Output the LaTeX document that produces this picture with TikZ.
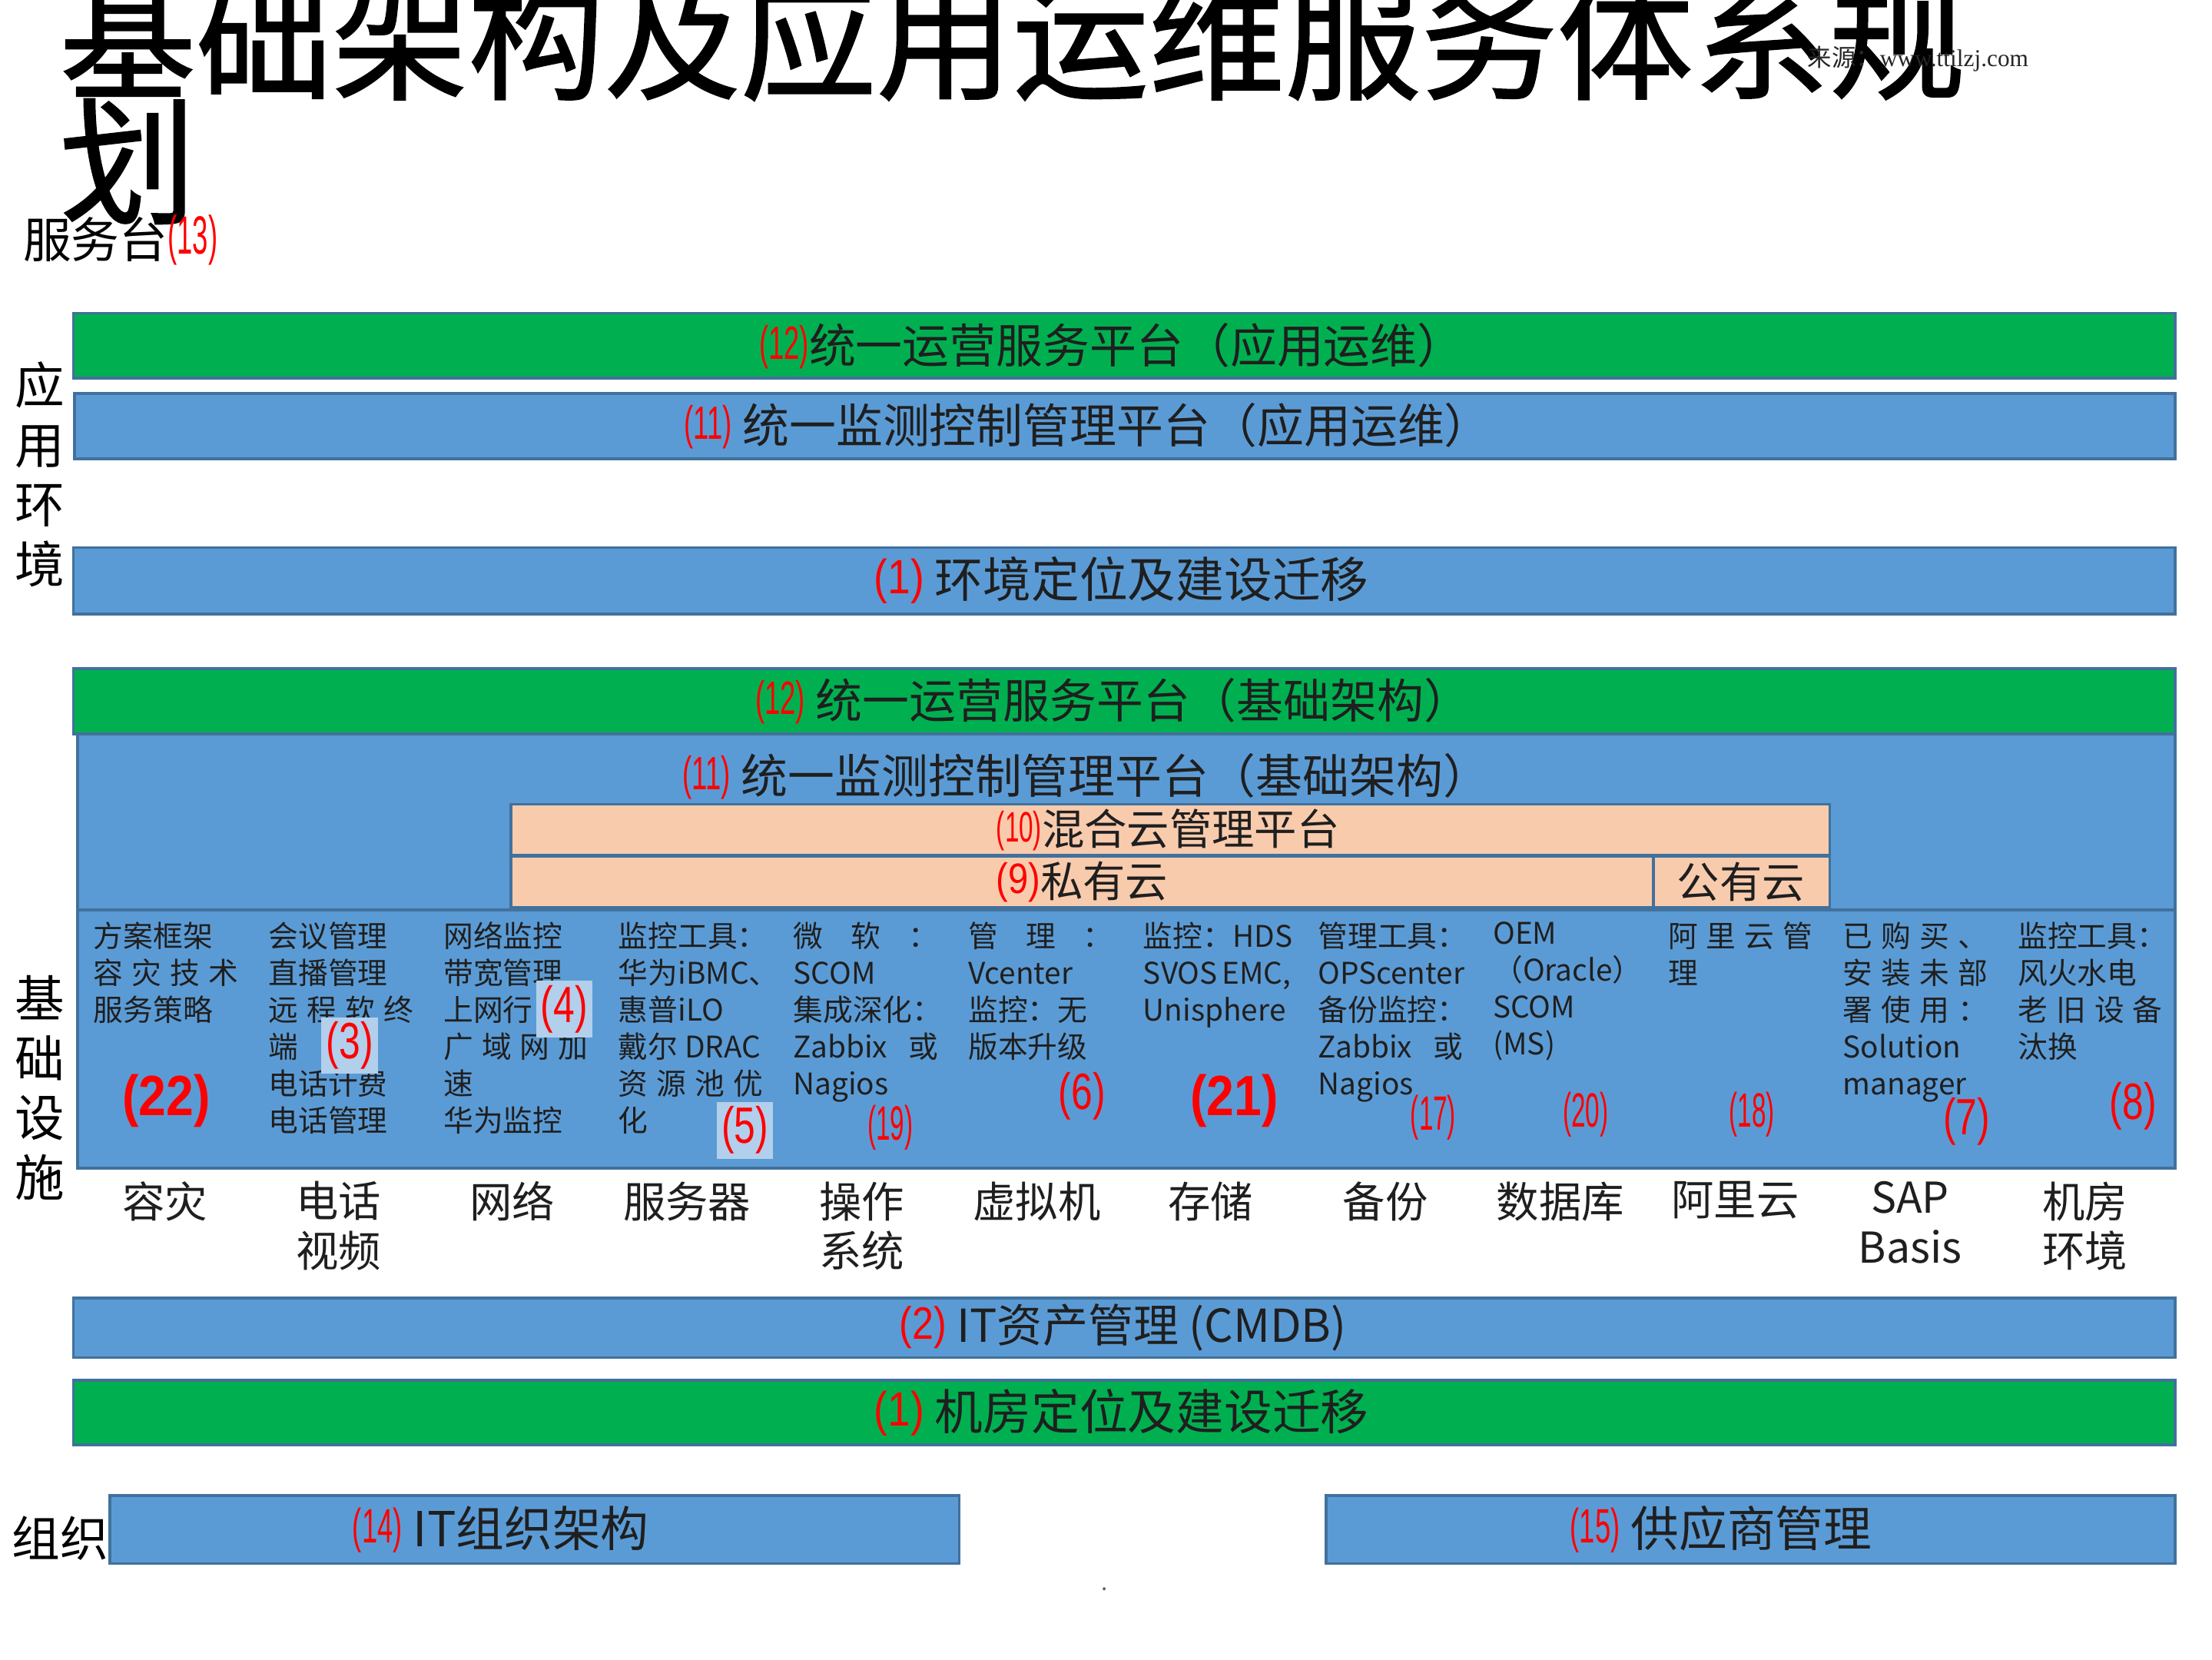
\documentclass[tikz,border=0pt]{standalone}
\usepackage{fontspec}
\usepackage{graphicx}
\setmainfont{Noto Sans CJK SC}
\newfontfamily\numfont{Liberation Sans}
\newfontfamily\wmfont{Liberation Serif}
\newfontfamily\titlefont[FakeBold=1.2]{Noto Sans CJK SC}
\definecolor{gbar}{HTML}{00B050}
\definecolor{bbar}{HTML}{5B9BD5}
\definecolor{bdr}{HTML}{41719C}
\definecolor{peach}{HTML}{F8CBAD}
\definecolor{numred}{HTML}{FF0000}
\definecolor{ink}{HTML}{1F1F1F}
\definecolor{hlc}{HTML}{B2CFEC}
\newcommand{\fs}[2]{\fontsize{#1pt}{#2pt}\selectfont}
\newcommand{\pn}[3]{\raisebox{0.08em}{\color{numred}\numfont\fontsize{#1pt}{#1pt}\selectfont\scalebox{#2}[1]{(#3)}}}
\newcommand{\pnb}[3]{{\color{numred}\numfont\bfseries\fontsize{#1pt}{#1pt}\selectfont\scalebox{#2}[1]{(#3)}}}
\newcommand{\jl}[1]{\makebox[51pt][s]{#1}}
\begin{document}
\begin{tikzpicture}[x=0.49745pt,y=-0.49745pt,
  barg/.style={fill=gbar,draw=bdr,line width=1pt},
  barb/.style={fill=bbar,draw=bdr,line width=1pt},
  barp/.style={fill=peach,draw=bdr,line width=1pt},
  txt/.style={inner sep=0pt,text=ink},
  bartxt/.style={txt,font=\fs{16.5}{20}},
  coltxt/.style={txt,anchor=north west,align=left,font=\fs{10.5}{13}},
  collab/.style={txt,anchor=north,align=center,font=\fs{15}{17.5}},
  hlbox/.style={fill=hlc,inner sep=0pt,minimum width=20pt,minimum height=20pt},
  sidelab/.style={txt,text=black,anchor=north,align=center,font=\fs{17.5}{21}}]
\useasboundingbox (0,0) rectangle (1568,1175.9);
\fill[white] (0,0) rectangle (1568,1175.9);

% title
\node[txt,text=black,anchor=base west,font=\fs{48}{56}\titlefont] (title1) at (42,63) {基础架构及应用运维服务体系规};
\node[txt,text=black,anchor=base west,font=\fs{48}{56}\titlefont] (title2) at (42,151) {划};
\node[txt,text=black!85,anchor=west,font=\fs{8.5}{10}] (wm) at (1281,42) {来源：{\wmfont www.ttilzj.com}};
\node[txt,text=black,anchor=west,font=\fs{17}{20}] (svc) at (16,170) {服务台\pn{19}{0.52}{13}};

% side labels
\node[sidelab] (envlab) at (28,256) {应\\用\\环\\境};
\node[sidelab] (inflab) at (28,691) {基\\础\\设\\施};
\node[txt,text=black,anchor=west,font=\fs{17}{20}] (orglab) at (8,1090) {组织};

% application bars
\path[barg] (52,222) rectangle (1542,268);
\node[bartxt] (a12) at (788,245) {\pn{16.5}{0.6}{12}统一运营服务平台（应用运维）};
\path[barb] (53,279) rectangle (1542,325);
\node[bartxt] (a11) at (771,302) {\pn{16.5}{0.6}{11} 统一监测控制管理平台（应用运维）};
\path[barb] (52,388) rectangle (1542,435);
\node[bartxt,font=\fs{17}{20}] (a1) at (795,411) {\pn{17}{0.85}{1} 环境定位及建设迁移};

% infrastructure
\path[barg] (52,474) rectangle (1542,520);
\node[bartxt] (i12) at (789,497) {\pn{16.5}{0.6}{12} 统一运营服务平台（基础架构）};
\path[barb] (55,520) rectangle (1542,645);
\node[bartxt] (i11) at (770,550) {\pn{16.5}{0.6}{11} 统一监测控制管理平台（基础架构）};
\path[barp] (362,570) rectangle (1297,606);
\node[bartxt,font=\fs{15}{18}] (i10) at (828,588) {\pn{15}{0.6}{10}混合云管理平台};
\path[barp] (362,607) rectangle (1172,643);
\node[bartxt,font=\fs{15}{18}] (i9) at (767,625) {\pn{15}{0.85}{9}私有云};
\path[barp] (1172,607) rectangle (1297,643);
\node[bartxt,font=\fs{15}{18}] (pub) at (1234,625) {公有云};
\path[barb] (55,645) rectangle (1542,828);

% column texts
\node[coltxt] (c1) at (66,653) {方案框架\\\jl{容\hfill 灾\hfill 技\hfill 术}\\服务策略};
\node[coltxt] (c2) at (190,653) {会议管理\\直播管理\\\jl{远\hfill 程\hfill 软\hfill 终}\\端\\电话计费\\电话管理};
\node[coltxt] (c3) at (314,653) {网络监控\\带宽管理\\上网行\\\jl{广\hfill 域\hfill 网\hfill 加}\\速\\华为监控};
\node[coltxt] (c4) at (438,653) {\jl{监\hfill 控\hfill 工\hfill 具\hfill ：}\\\jl{华\hfill 为\hfill iBMC、}\\惠普iLO\\戴尔 DRAC\\\jl{资\hfill 源\hfill 池\hfill 优}\\化};
\node[coltxt] (c5) at (562,653) {\jl{微\hfill 软\hfill ：}\\SCOM\\\jl{集\hfill 成\hfill 深\hfill 化\hfill ：}\\\jl{Zabbix\hfill 或}\\Nagios};
\node[coltxt] (c6) at (686,653) {\jl{管\hfill 理\hfill ：}\\Vcenter\\监控：无\\版本升级};
\node[coltxt] (c7) at (810,653) {\jl{监控：\hfill HDS}\\\jl{SVOS~\hfill EMC,}\\Unisphere};
\node[coltxt] (c8) at (934,653) {\jl{管\hfill 理\hfill 工\hfill 具\hfill ：}\\OPScenter\\\jl{备\hfill 份\hfill 监\hfill 控\hfill ：}\\\jl{Zabbix\hfill 或}\\Nagios};
\node[coltxt] (c9) at (1058,653) {OEM\\（Oracle）\\SCOM\\(MS)};
\node[coltxt] (c10) at (1182,653) {\jl{阿\hfill 里\hfill 云\hfill 管}\\理};
\node[coltxt] (c11) at (1306,653) {\jl{已\hfill 购\hfill 买\hfill 、}\\\jl{安\hfill 装\hfill 未\hfill 部}\\\jl{署\hfill 使\hfill 用\hfill ：}\\Solution\\manager};
\node[coltxt] (c12) at (1430,653) {\jl{监\hfill 控\hfill 工\hfill 具\hfill ：}\\风火水电\\\jl{老\hfill 旧\hfill 设\hfill 备}\\汰换};

% red numbers in columns
\node[txt] (n22) at (118,780) {\pnb{20}{0.87}{22}};
\node[hlbox] (n3) at (248,741) {\pn{18}{0.75}{3}};
\node[hlbox] (n4) at (400,715) {\pn{18}{0.75}{4}};
\node[hlbox] (n5) at (528,801) {\pn{18}{0.75}{5}};
\node[txt] (n19) at (631,799) {\pn{17}{0.53}{19}};
\node[txt] (n6) at (767,777) {\pn{18}{0.75}{6}};
\node[txt] (n21) at (875,780) {\pnb{20}{0.87}{21}};
\node[txt] (n17) at (1016,792) {\pn{17}{0.53}{17}};
\node[txt] (n20) at (1124,790) {\pn{17}{0.53}{20}};
\node[txt] (n18) at (1242,790) {\pn{17}{0.53}{18}};
\node[txt] (n7) at (1394,795) {\pn{18}{0.75}{7}};
\node[txt] (n8) at (1512,784) {\pn{18}{0.75}{8}};

% column labels
\node[collab] (l1) at (117,837) {容灾};
\node[collab] (l2) at (240,837) {电话\\视频};
\node[collab] (l3) at (363,837) {网络};
\node[collab] (l4) at (487,837) {服务器};
\node[collab] (l5) at (611,837) {操作\\系统};
\node[collab] (l6) at (735,837) {虚拟机};
\node[collab] (l7) at (858,837) {存储};
\node[collab] (l8) at (982,837) {备份};
\node[collab] (l9) at (1106,837) {数据库};
\node[collab] (l10) at (1230,837) {阿里云};
\node[collab] (l11) at (1354,837) {SAP\\Basis};
\node[collab] (l12) at (1478,837) {机房\\环境};

% lower bars
\path[barb] (52,920) rectangle (1542,962);
\node[bartxt,font=\fs{16}{19}] (b2) at (796,941) {\pn{16}{0.85}{2} IT资产管理 (CMDB)};
\path[barg] (52,978) rectangle (1542,1024);
\node[bartxt,font=\fs{17}{20}] (b1) at (795,1001) {\pn{17}{0.85}{1} 机房定位及建设迁移};
\path[barb] (78,1060) rectangle (680,1108);
\node[bartxt,font=\fs{17}{20}] (o14) at (355,1084) {\pn{17}{0.58}{14} IT组织架构};
\path[barb] (940,1060) rectangle (1542,1108);
\node[bartxt,font=\fs{17}{20}] (o15) at (1220,1084) {\pn{17}{0.58}{15} 供应商管理};
\node[txt,text=black!60,font=\fs{8}{9}] (dot) at (783,1126) {.};
\end{tikzpicture}
\end{document}
